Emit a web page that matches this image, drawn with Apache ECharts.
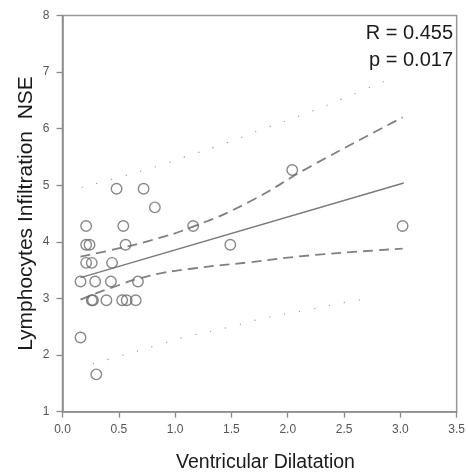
<!DOCTYPE html>
<html><head><meta charset="utf-8">
<script src="https://cdn.jsdelivr.net/npm/echarts@6/dist/echarts.min.js"></script>
<style>html,body{margin:0;padding:0;background:#fff}#c{width:468px;height:474px}</style>
</head><body><div id="c"></div>
<script>
// Observed points (Ventricular Dilatation, Lymphocytes Infiltration NSE)
var pointX = [0.48,0.72,0.82,0.21,0.54,1.16,3.02,2.04,0.21,0.24,0.56,1.49,0.21,0.26,0.44,0.16,0.29,0.43,0.67,0.26,0.27,0.39,0.53,0.57,0.65,0.16,0.30];
var pointY = [4.94,4.94,4.61,4.28,4.28,4.28,4.28,5.27,3.95,3.95,3.95,3.95,3.63,3.63,3.63,3.30,3.30,3.30,3.30,2.97,2.97,2.97,2.97,2.97,2.97,2.31,1.66];
// Fit line
var fitX = [0.16, 3.03];
var fitY = [3.37, 5.04];
// Confidence band (dashed)
var ciX = [0.16,0.42,0.77,1.16,1.66,2.19,3.02];
var ciUpper = [3.74,3.85,4.02,4.27,4.71,5.32,6.20];
var ciLower = [2.98,3.18,3.40,3.53,3.64,3.76,3.88];
// Prediction band (dotted)
var piUpperX = [0.17,0.48,0.88,1.07,1.47,1.76,2.15,2.56,2.86];
var piUpperY = [4.96,5.13,5.36,5.49,5.76,5.98,6.26,6.59,6.84];
var piLowerX = [0.27,0.49,0.88,1.07,1.47,1.76,2.15,2.56,2.76];
var piLowerY = [1.85,1.97,2.20,2.31,2.49,2.64,2.79,2.95,3.01];
var xTicks = [0,0.5,1,1.5,2,2.5,3,3.5];
var yTicks = [1,2,3,4,5,6,7,8];
var statLines = ['R = 0.455', 'p = 0.017'];
var xTitle = 'Ventricular Dilatation';
var yTitle = 'Lymphocytes Infiltration  NSE';

function zip(a, b){ return a.map(function(v,i){ return [v, b[i]]; }); }
var FONT = '"Liberation Sans", Arial, sans-serif';
var chart = echarts.init(document.getElementById('c'), null, {renderer:'canvas'});
var axisCol = '#8a8a8a';
chart.setOption({
  animation:false,
  backgroundColor:'#fff',
  grid:{left:62.5, right:9.7, top:15.5, bottom:62.3, show:true, borderColor:'#999', borderWidth:1.5},
  xAxis:{type:'value', min:xTicks[0], max:xTicks[xTicks.length-1], interval:0.5,
    axisLine:{show:true, onZero:false, lineStyle:{color:axisCol, width:1.5}},
    axisTick:{show:true, length:6, lineStyle:{color:axisCol, width:1.3}},
    splitLine:{show:false},
    axisLabel:{color:'#555', fontSize:12, fontFamily:FONT, margin:12,
      formatter:function(v){ return v.toFixed(1); }}},
  yAxis:{type:'value', min:yTicks[0], max:yTicks[yTicks.length-1], interval:1,
    axisLine:{show:true, onZero:false, lineStyle:{color:axisCol, width:1.5}},
    axisTick:{show:true, length:6, lineStyle:{color:axisCol, width:1.3}},
    splitLine:{show:false},
    axisLabel:{color:'#555', fontSize:12, fontFamily:FONT, margin:13}},
  series:[
    {type:'line', data:zip(piUpperX, piUpperY), smooth:true, symbol:'none',
      lineStyle:{color:'#9a9a9a', width:1.2, type:[1.2,14]}},
    {type:'line', data:zip(piLowerX, piLowerY), smooth:true, symbol:'none',
      lineStyle:{color:'#9a9a9a', width:1.2, type:[1.2,14]}},
    {type:'line', data:zip(ciX, ciUpper), smooth:true, symbol:'none',
      lineStyle:{color:'#808080', width:1.8, type:[10,6]}},
    {type:'line', data:zip(ciX, ciLower), smooth:true, symbol:'none',
      lineStyle:{color:'#808080', width:1.8, type:[10,6]}},
    {type:'line', data:zip(fitX, fitY), symbol:'none',
      lineStyle:{color:'#7a7a7a', width:1.4}},
    {type:'scatter', data:zip(pointX, pointY), symbol:'circle', symbolSize:10.5,
      itemStyle:{color:'rgba(255,255,255,0)', borderColor:'#6a6a6a', borderWidth:1.4}, z:5}
  ],
  graphic:[
    {type:'text', x:453, y:33, style:{text:statLines[0], font:'20px '+FONT, fill:'#1a1a1a', align:'right', verticalAlign:'middle'}},
    {type:'text', x:453, y:60, style:{text:statLines[1], font:'20px '+FONT, fill:'#1a1a1a', align:'right', verticalAlign:'middle'}},
    {type:'text', x:265.5, y:463, style:{text:xTitle, font:'19.5px '+FONT, fill:'#1a1a1a', align:'center', verticalAlign:'middle'}},
    {type:'text', x:26, y:213.5, rotation:Math.PI/2, style:{text:yTitle, font:'21px '+FONT, fill:'#1a1a1a', align:'center', verticalAlign:'middle'}}
  ]
});
</script></body></html>
